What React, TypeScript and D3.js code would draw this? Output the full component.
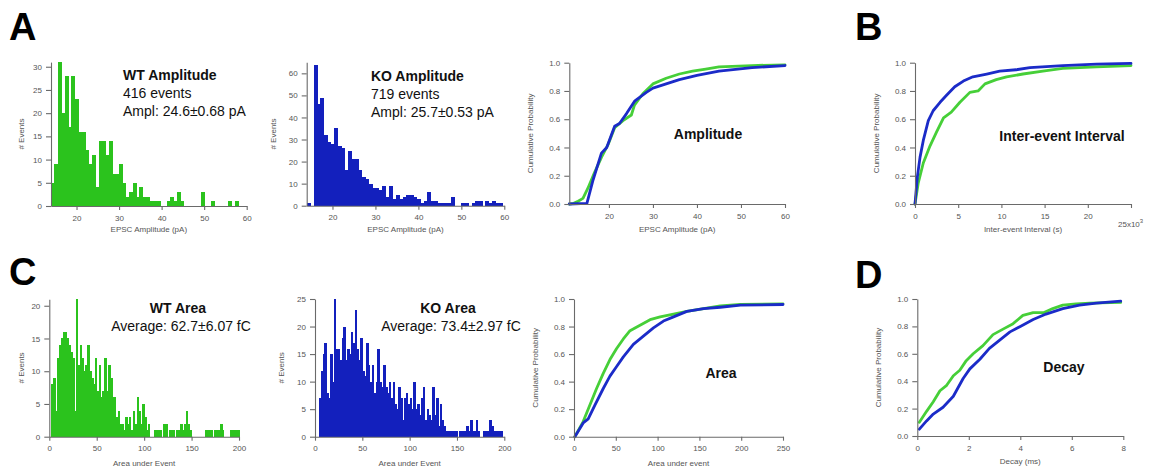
import React, { useEffect, useRef } from 'react';
import * as d3 from 'd3';

const W = 1152;
const H = 474;
const FONT = "'Liberation Sans', Arial, Helvetica, sans-serif";
const GREEN = '#2bc31d';
const BLUE = '#1320bd';
const GREEN_LINE = '#46cf38';
const BLUE_LINE = '#1b2bc8';

// ---- amplitude histograms (0.8 pA bins starting at 14 pA)
const ampBinStart = 14;
const ampBinWidth = 0.8;
const wtAmpCounts = [
  5, 9, 31, 20, 28, 17, 28, 23, 16, 16,
  12, 9, 11, 4, 14, 14, 11, 14, 7, 7,
  9, 5, 2, 3, 5, 2, 4, 2, 2, 1,
  1, 1, 0, 0, 1, 2, 1, 3, 1, 0,
  0, 0, 0, 0, 3, 0, 0, 1, 0, 0,
  0, 0, 1, 0, 1, 0, 0,
];
const koAmpCounts = [
  1, 0, 64, 46, 49, 32, 29, 28, 35, 27,
  26, 16, 25, 21, 21, 16, 13, 12, 10, 8,
  8, 7, 9, 4, 9, 3, 5, 3, 4, 5,
  5, 4, 3, 1, 2, 6, 2, 2, 1, 1,
  1, 1, 4, 0, 0, 1, 1, 0, 1, 2,
  2, 0, 2, 1, 2, 1, 1,
];

// ---- area histograms (2 fC bins starting at 0)
const areaBinStart = 0;
const areaBinWidth = 2;
const wtAreaCounts = [
  0, 8, 9, 4, 12, 14, 15, 16, 16, 15,
  14, 13, 12, 4, 21, 11, 14, 12, 10, 11,
  14, 10, 9, 8, 12, 7, 11, 6, 7, 12,
  7, 11, 9, 6, 6, 3, 4, 2, 2, 1,
  3, 2, 3, 1, 4, 2, 6, 4, 2, 5,
  3, 1, 2, 0, 0, 1, 1, 1, 1, 0,
  2, 2, 0, 1, 1, 1, 0, 1, 1, 2,
  1, 2, 4, 2, 1, 0, 0, 0, 0, 0,
  0, 0, 1, 1, 1, 1, 0, 1, 1, 1,
  2, 1, 0, 0, 0, 1, 1, 1, 1, 1,
];
const koAreaCounts = [
  0, 0, 7, 12, 15, 17, 8, 7, 15, 10,
  25, 16, 16, 14, 18, 20, 14, 16, 15, 19,
  17, 23, 16, 14, 18, 12, 11, 17, 13, 10,
  13, 8, 10, 16, 10, 9, 13, 9, 8, 10,
  7, 10, 6, 5, 9, 7, 3, 7, 8, 6,
  7, 5, 10, 5, 6, 4, 7, 9, 3, 5,
  4, 3, 9, 4, 7, 2, 6, 3, 2, 1,
  1, 1, 1, 1, 1, 0, 1, 1, 1, 1,
  2, 1, 3, 1, 1, 3, 1, 0, 0, 1,
  1, 1, 3, 2, 1, 1, 1, 1, 1, 0,
];

// ---- cumulative probability curves [x, p]
type Pt = [number, number];
const wtAmpCdf: Pt[] = [[11, 0], [12, 0.005], [13, 0.02], [14.1, 0.04], [15.2, 0.11], [16.7, 0.22], [18.3, 0.33], [19.8, 0.42], [21.3, 0.54], [23.2, 0.59], [25.1, 0.63], [25.8, 0.7], [27.7, 0.78], [30, 0.85], [33, 0.89], [36, 0.92], [39, 0.94], [42, 0.955], [45, 0.97], [52.5, 0.98], [60, 0.985]];
const koAmpCdf: Pt[] = [[11, 0], [15, 0.005], [16.4, 0.17], [18.3, 0.36], [19.5, 0.4], [21.3, 0.55], [22.4, 0.57], [24, 0.64], [25.9, 0.73], [28.5, 0.79], [30, 0.82], [33, 0.85], [36, 0.88], [40, 0.91], [45, 0.94], [52.5, 0.965], [60, 0.98]];
const wtIviCdf: Pt[] = [[0, 0], [0.38, 0.15], [0.96, 0.29], [1.73, 0.41], [2.5, 0.51], [3.3, 0.61], [4.2, 0.65], [5.2, 0.72], [6.35, 0.79], [7.3, 0.8], [8.1, 0.85], [9.4, 0.88], [10.6, 0.9], [12.5, 0.92], [14.8, 0.94], [17.1, 0.96], [21, 0.97], [25, 0.98]];
const koIviCdf: Pt[] = [[0, 0], [0.27, 0.19], [0.58, 0.33], [0.96, 0.45], [1.54, 0.59], [2.1, 0.66], [2.9, 0.72], [3.65, 0.77], [4.6, 0.83], [5.6, 0.87], [6.7, 0.9], [8.3, 0.92], [9.8, 0.94], [11.7, 0.95], [13.3, 0.965], [17.1, 0.98], [21, 0.99], [25, 0.995]];
const wtAreaCdf: Pt[] = [[1, 0], [11, 0.11], [19, 0.23], [27, 0.35], [35, 0.46], [43, 0.56], [51, 0.64], [59, 0.71], [67, 0.77], [79, 0.81], [91, 0.85], [103, 0.87], [119, 0.89], [135, 0.91], [155, 0.93], [175, 0.95], [199, 0.96], [250, 0.965]];
const koAreaCdf: Pt[] = [[1, 0], [11, 0.1], [17, 0.13], [25, 0.23], [35, 0.35], [43, 0.44], [51, 0.51], [59, 0.58], [71, 0.67], [83, 0.73], [95, 0.79], [107, 0.84], [119, 0.87], [135, 0.91], [155, 0.93], [175, 0.94], [199, 0.955], [250, 0.96]];
const wtDecayCdf: Pt[] = [[0.08, 0.1], [0.36, 0.18], [0.62, 0.25], [0.88, 0.33], [1.14, 0.37], [1.4, 0.44], [1.65, 0.48], [1.9, 0.55], [2.17, 0.6], [2.55, 0.66], [2.94, 0.74], [3.33, 0.78], [3.72, 0.82], [4.1, 0.88], [4.5, 0.9], [4.9, 0.9], [5.26, 0.93], [5.65, 0.955], [6.17, 0.965], [6.7, 0.97], [7.9, 0.975]];
const koDecayCdf: Pt[] = [[0.08, 0.05], [0.36, 0.11], [0.62, 0.16], [1.0, 0.21], [1.4, 0.29], [1.78, 0.42], [2.04, 0.49], [2.43, 0.56], [2.8, 0.64], [3.2, 0.7], [3.6, 0.76], [4.0, 0.8], [4.5, 0.85], [5.0, 0.89], [5.65, 0.93], [6.3, 0.955], [6.95, 0.97], [7.9, 0.985]];

// ---- tick values
const ampXTicks = [20, 30, 40, 50, 60];
const wtAmpYTicks = [0, 5, 10, 15, 20, 25, 30];
const koAmpYTicks = [0, 10, 20, 30, 40, 50, 60];
const areaXTicks = [0, 50, 100, 150, 200];
const wtAreaYTicks = [0, 5, 10, 15, 20];
const koAreaYTicks = [0, 5, 10, 15, 20, 25];
const probTicks = [0, 0.2, 0.4, 0.6, 0.8, 1.0];
const iviXTicks = [0, 5, 10, 15, 20, 25];
const areaCdfXTicks = [0, 50, 100, 150, 200, 250];
const decayXTicks = [0, 2, 4, 6, 8];

function drawAxes(svg, x, y, o) {
  const y0 = y.range()[0];
  const x0 = x.range()[0];

  const xa = svg.append('g')
    .attr('transform', `translate(0,${y0})`)
    .call(d3.axisBottom(x).tickValues(o.xTicks).tickSize(4).tickSizeOuter(0).tickPadding(5)
      .tickFormat(o.xFormat || d3.format('d')));
  const ya = svg.append('g')
    .attr('transform', `translate(${x0},0)`)
    .call(d3.axisLeft(y).tickValues(o.yTicks).tickSize(5).tickSizeOuter(0).tickPadding(4)
      .tickFormat(o.yFormat || d3.format('d')));

  [xa, ya].forEach(a => {
    a.attr('font-size', 8).attr('font-family', FONT);
    a.select('.domain').attr('stroke', '#6a6a6a').attr('stroke-width', 1.1);
    a.selectAll('.tick line').attr('stroke', '#6a6a6a').attr('stroke-width', 1.1);
    a.selectAll('.tick text').attr('fill', '#555');
  });

  // axis titles
  svg.append('text')
    .attr('x', (x.range()[0] + x.range()[1]) / 2)
    .attr('y', y0 + o.xTitleDy)
    .attr('text-anchor', 'middle')
    .style('font-family', FONT).style('font-size', '8px').style('fill', '#555')
    .text(o.xTitle);
  const ym = (y.range()[0] + y.range()[1]) / 2;
  svg.append('text')
    .attr('transform', `translate(${x0 - o.yTitleDx},${ym}) rotate(-90)`)
    .attr('text-anchor', 'middle')
    .style('font-family', FONT).style('font-size', '8px').style('fill', '#555')
    .text(o.yTitle);
}

function drawHist(svg, p) {
  const x = d3.scaleLinear().domain(p.xDomain).range(p.xRange);
  const y = d3.scaleLinear().domain(p.yDomain).range(p.yRange);
  svg.append('g')
    .attr('shape-rendering', 'crispEdges')
    .selectAll('rect')
    .data(p.counts)
    .join('rect')
    .attr('x', (d, i) => x(p.binStart + i * p.binWidth))
    .attr('width', (d, i) => x(p.binStart + (i + 1) * p.binWidth) - x(p.binStart + i * p.binWidth) + 0.6)
    .attr('y', d => y(d))
    .attr('height', d => y(0) - y(d))
    .attr('fill', p.color);
  drawAxes(svg, x, y, {
    xTicks: p.xTicks, yTicks: p.yTicks, xTitle: p.xTitle, yTitle: '# Events',
    xTitleDy: p.xTitleDy, yTitleDx: p.yTitleDx,
  });
}

function drawCdf(svg, p) {
  const x = d3.scaleLinear().domain(p.xDomain).range(p.xRange);
  const y = d3.scaleLinear().domain([0, 1]).range(p.yRange);
  const line = d3.line<Pt>().x(d => x(d[0])).y(d => y(d[1]));
  [[p.wt, GREEN_LINE], [p.ko, BLUE_LINE]].forEach(([data, c]) => {
    svg.append('path')
      .datum(data)
      .attr('d', line)
      .attr('fill', 'none')
      .attr('stroke', c)
      .attr('stroke-width', 2.8)
      .attr('stroke-linejoin', 'round')
      .attr('stroke-linecap', 'round');
  });
  drawAxes(svg, x, y, {
    xTicks: p.xTicks, yTicks: probTicks, xFormat: p.xFormat, yFormat: d3.format('.1f'),
    xTitle: p.xTitle, yTitle: 'Cumulative Probability', xTitleDy: p.xTitleDy, yTitleDx: 36,
  });
  svg.append('text')
    .attr('x', p.label[1]).attr('y', p.label[2])
    .attr('text-anchor', 'middle')
    .style('font-family', FONT).style('font-size', '14px').style('font-weight', 'bold').style('fill', '#111')
    .text(p.label[0]);
  return x;
}

function textBlock(svg, x, y, lines, anchor) {
  lines.forEach((l, i) => {
    svg.append('text')
      .attr('x', x[i] !== undefined ? x[i] : x[0]).attr('y', y + i * 18)
      .attr('text-anchor', anchor)
      .style('font-family', FONT).style('font-size', '14px')
      .style('font-weight', i === 0 ? 'bold' : 'normal').style('fill', '#111')
      .text(l);
  });
}

const App = () => {
  const svgRef = useRef(null);

  useEffect(() => {
    const svg = d3.select(svgRef.current);
    svg.selectAll('*').remove();

    svg.append('rect').attr('width', W).attr('height', H).attr('fill', '#fff');

    // panel letters
    [['A', 9, 40], ['B', 855, 40], ['C', 9, 285], ['D', 855, 288]].forEach(([t, x, y]) => {
      svg.append('text').attr('x', x).attr('y', y)
        .style('font-family', FONT).style('font-size', '38px').style('font-weight', 'bold').style('fill', '#000')
        .text(t as string);
    });

    // ---- row 1
    drawHist(svg, {
      counts: wtAmpCounts, binStart: ampBinStart, binWidth: ampBinWidth, color: GREEN,
      xDomain: [14, 60], xRange: [51, 246.7], yDomain: [0, 31], yRange: [206, 62.1],
      xTicks: ampXTicks, yTicks: wtAmpYTicks, xTitle: 'EPSC Amplitude (pA)', xTitleDy: 26, yTitleDx: 27,
    });
    textBlock(svg, [123], 80, ['WT Amplitude', '416 events', 'Ampl: 24.6±0.68 pA'], 'start');

    drawHist(svg, {
      counts: koAmpCounts, binStart: ampBinStart, binWidth: ampBinWidth, color: BLUE,
      xDomain: [14, 60], xRange: [306.7, 504.3], yDomain: [0, 65], yRange: [205.7, 62.3],
      xTicks: ampXTicks, yTicks: koAmpYTicks, xTitle: 'EPSC Amplitude (pA)', xTitleDy: 26, yTitleDx: 31,
    });
    textBlock(svg, [371], 81, ['KO Amplitude', '719 events', 'Ampl: 25.7±0.53 pA'], 'start');

    drawCdf(svg, {
      wt: wtAmpCdf, ko: koAmpCdf, xDomain: [11, 60], xRange: [569.3, 785], yRange: [204, 62.7],
      xTicks: ampXTicks, xTitle: 'EPSC Amplitude (pA)', xTitleDy: 28, label: ['Amplitude', 708, 139],
    });

    const xIvi = drawCdf(svg, {
      wt: wtIviCdf, ko: koIviCdf, xDomain: [0, 25], xRange: [915, 1131], yRange: [204, 62.7],
      xTicks: iviXTicks, xFormat: d => (d === 25 ? '' : String(d)),
      xTitle: 'Inter-event Interval (s)', xTitleDy: 28, label: ['Inter-event Interval', 1062, 141],
    });
    const sci = svg.append('text')
      .attr('x', xIvi(25) - 13).attr('y', 227)
      .style('font-family', FONT).style('font-size', '8px').style('fill', '#555');
    sci.append('tspan').text('25x10');
    sci.append('tspan').attr('dy', -4).style('font-size', '6px').text('3');

    // ---- row 2
    drawHist(svg, {
      counts: wtAreaCounts, binStart: areaBinStart, binWidth: areaBinWidth, color: GREEN,
      xDomain: [0, 200], xRange: [49.3, 239], yDomain: [0, 21], yRange: [436.7, 299.2],
      xTicks: areaXTicks, yTicks: wtAreaYTicks, xTitle: 'Area under Event', xTitleDy: 29, yTitleDx: 25,
    });
    textBlock(svg, [178, 181], 313, ['WT Area', 'Average: 62.7±6.07 fC'], 'middle');

    drawHist(svg, {
      counts: koAreaCounts, binStart: areaBinStart, binWidth: areaBinWidth, color: BLUE,
      xDomain: [0, 200], xRange: [315, 504.3], yDomain: [0, 25], yRange: [436.7, 299],
      xTicks: areaXTicks, yTicks: koAreaYTicks, xTitle: 'Area under Event', xTitleDy: 29, yTitleDx: 31,
    });
    textBlock(svg, [448, 451], 313, ['KO Area', 'Average: 73.4±2.97 fC'], 'middle');

    drawCdf(svg, {
      wt: wtAreaCdf, ko: koAreaCdf, xDomain: [0, 250], xRange: [574, 783], yRange: [436.7, 299],
      xTicks: areaCdfXTicks, xTitle: 'Area under event', xTitleDy: 29, label: ['Area', 721, 378],
    });

    drawCdf(svg, {
      wt: wtDecayCdf, ko: koDecayCdf, xDomain: [0, 8], xRange: [917.3, 1123.3], yRange: [436, 299],
      xTicks: decayXTicks, xTitle: 'Decay (ms)', xTitleDy: 28, label: ['Decay', 1064, 372],
    });
  }, []);

  return (
    <svg
      ref={svgRef}
      width={W}
      height={H}
      style={{ position: 'absolute', left: 0, top: 0, display: 'block' }}
    ></svg>
  );
};

export default App;
